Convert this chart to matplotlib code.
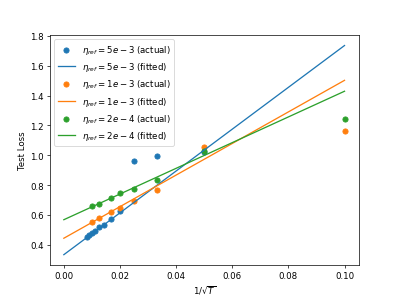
import numpy as np
import matplotlib.pyplot as plt

# 1/sqrt(T) values and test losses
x_5e3 = [1/120, 1/110, 1/100, 1/90, 1/80, 1/70, 1/60, 1/50, 1/40, 1/30, 1/20]
y_5e3 = [0.451, 0.467, 0.480, 0.495, 0.522, 0.535, 0.573, 0.625, 0.962, 0.995, 1.025]

x_1e3 = [1/100, 1/80, 1/60, 1/50, 1/40, 1/30, 1/20, 1/10]
y_1e3 = [0.551, 0.580, 0.618, 0.647, 0.693, 0.767, 1.058, 1.162]

x_2e4 = [1/100, 1/80, 1/60, 1/50, 1/40, 1/30, 1/20, 1/10]
y_2e4 = [0.658, 0.673, 0.713, 0.751, 0.773, 0.835, 1.029, 1.245]

# fitted lines: loss = a + b / sqrt(T)
fit_5e3 = (0.335, 14.0)
fit_1e3 = (0.445, 10.57)
fit_2e4 = (0.569, 8.6)

names = ["5e-3", "1e-3", "2e-4"]
colors = ["tab:blue", "tab:orange", "tab:green"]

fig = plt.figure(figsize=(6.4, 4.8), dpi=62.25)
xs = np.linspace(0, 0.1, 100)
for (xd, yd, fit, nm, c) in zip([x_5e3, x_1e3, x_2e4], [y_5e3, y_1e3, y_2e4],
                                [fit_5e3, fit_1e3, fit_2e4], names, colors):
    lab = nm.replace("-", " - ")
    plt.scatter(xd, yd, color=c, label=r"$\eta_{ref} = %s$ (actual)" % lab)
    plt.plot(xs, fit[0] + fit[1] * xs, color=c, label=r"$\eta_{ref} = %s$ (fitted)" % lab)

plt.xlabel(r"$1/\sqrt{T}$")
plt.ylabel("Test Loss")
plt.legend(loc="upper left")
plt.savefig("out.png", dpi=62.25)
